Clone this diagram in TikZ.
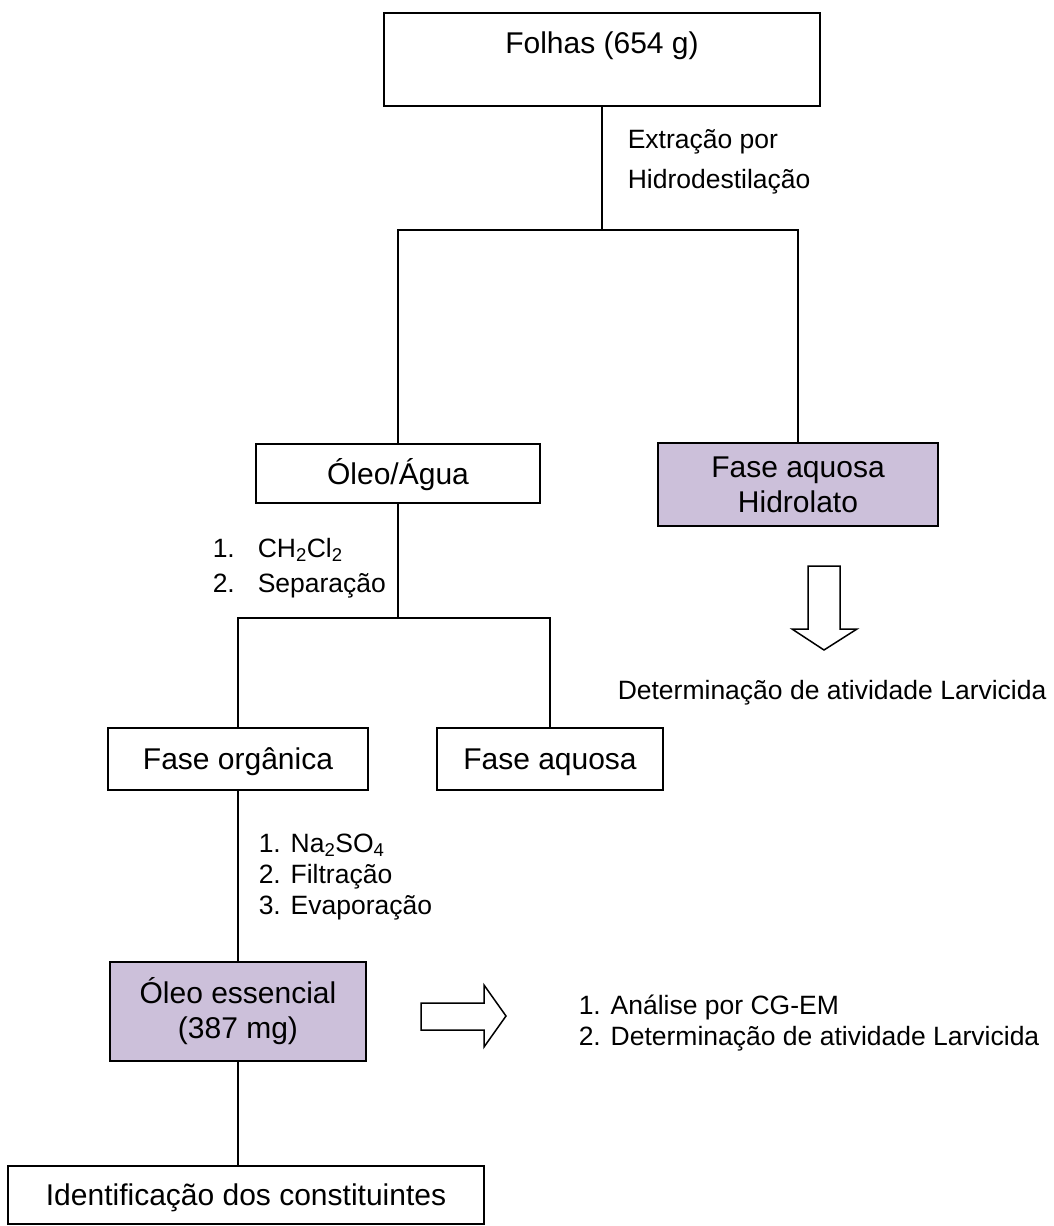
\documentclass[tikz,border=0pt]{standalone}
\usepackage{fontspec}
\setmainfont{Liberation Sans}
\definecolor{lilac}{RGB}{204,192,218}
\begin{document}
\begin{tikzpicture}[x=1pt,y=-1pt,
  line width=1.5pt, line join=miter,
  box/.style={draw, inner sep=0pt, font=\fontsize{30}{35}\selectfont,
    text height=21.5pt, text depth=0pt},
  box2/.style={draw, inner sep=0pt, font=\fontsize{30}{35}\selectfont, align=center},
  shaded/.style={fill=lilac},
  lbl/.style={anchor=west, inner sep=0pt, font=\fontsize{26.5}{31}\selectfont,
    text height=19pt, text depth=0pt},
  blockarrow/.style={draw, fill=white, line width=1.5pt, line join=miter}]
\useasboundingbox (0,0) rectangle (1053,1226);

% boxes
\node[box, minimum width=436pt, minimum height=93pt, text depth=33pt]
  (folhas) at (602,59.5) {Folhas (654 g)};
\node[box, minimum width=284pt, minimum height=59pt]
  (oleoagua) at (398,473.5) {Óleo/Água};
\node[box2, shaded, minimum width=280pt, minimum height=83pt]
  (hidro) at (798,484.5) {Fase aquosa\\Hidrolato};
\node[box, minimum width=260pt, minimum height=62pt]
  (organica) at (238,759) {Fase orgânica};
\node[box, minimum width=226pt, minimum height=62pt]
  (aquosa) at (550,759) {Fase aquosa};
\node[box2, shaded, minimum width=256pt, minimum height=99pt]
  (essencial) at (238,1011.5) {Óleo essencial\\(387 mg)};
\node[box, minimum width=476pt, minimum height=58pt]
  (ident) at (246,1195) {Identificação dos constituintes};

% branch points
\coordinate (s1) at (602,230);
\coordinate (s1l) at (398,230);
\coordinate (s1r) at (798,230);
\coordinate (s2) at (398,618);
\coordinate (s2l) at (238,618);
\coordinate (s2r) at (550,618);

% connectors
\draw (folhas.south) -- (s1);
\draw (oleoagua.north) -- (s1l) -- (s1r) -- (hidro.north);
\draw (oleoagua.south) -- (s2);
\draw (organica.north) -- (s2l) -- (s2r) -- (aquosa.north);
\draw (organica.south) -- (essencial.north);
\draw (essencial.south) -- (essencial.south |- ident.north);

% step labels
\node[lbl] (ext1) at (627,139) {Extração por};
\node[lbl] (ext2) at (627,179) {Hidrodestilação};

\node[lbl] (n1) at (212,548) {1.};
\node[lbl] (sol) at (257,548) {CH\textsubscript{2}Cl\textsubscript{2}};
\node[lbl] (n2) at (212,583) {2.};
\node[lbl] (sep) at (257,583) {Separação};

\node[lbl] (sec1) at (258,843) {1. Na\textsubscript{2}SO\textsubscript{4}};
\node[lbl] (sec2) at (258,874) {2. Filtração};
\node[lbl] (sec3) at (258,905) {3. Evaporação};

% block arrows
\draw[blockarrow] (808,566) -- (840,566) -- (840,629) -- (857,629)
  -- (824,650) -- (792,629) -- (808,629) -- cycle;
\node[lbl] (larv) at (617,690) {Determinação de atividade Larvicida};

\draw[blockarrow] (421,1003) -- (484,1003) -- (484,985) -- (506,1016)
  -- (484,1047) -- (484,1030) -- (421,1030) -- cycle;
\node[lbl] (an1) at (578,1005) {1. Análise por CG-EM};
\node[lbl] (an2) at (578,1036) {2. Determinação de atividade Larvicida};
\end{tikzpicture}
\end{document}
